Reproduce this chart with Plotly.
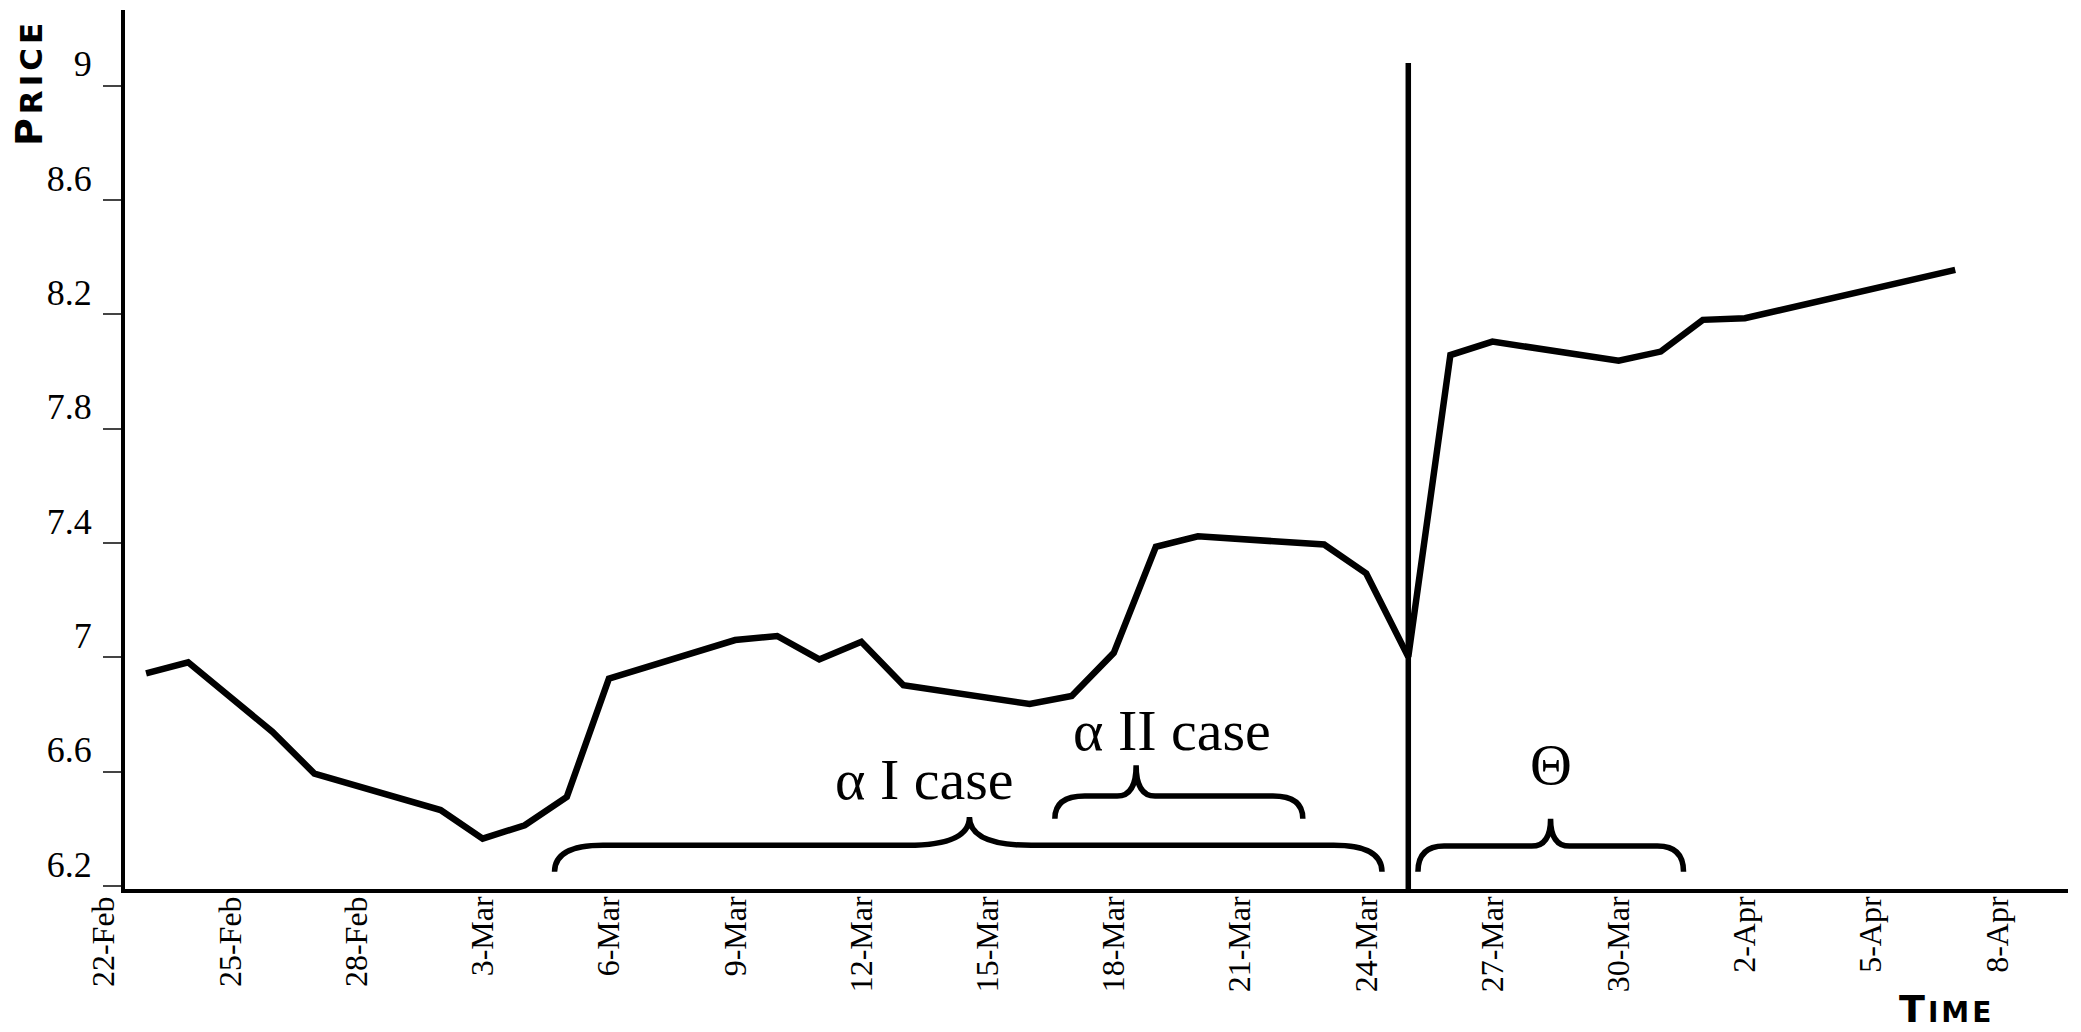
import calendar
from datetime import datetime
import plotly.graph_objects as go

# ---------------- data ----------------
dates = ["2009-02-23", "2009-02-24", "2009-02-25", "2009-02-26", "2009-02-27",
         "2009-03-02", "2009-03-03", "2009-03-04", "2009-03-05", "2009-03-06",
         "2009-03-09", "2009-03-10", "2009-03-11", "2009-03-12", "2009-03-13",
         "2009-03-16", "2009-03-17", "2009-03-18", "2009-03-19", "2009-03-20",
         "2009-03-23", "2009-03-24", "2009-03-25", "2009-03-26", "2009-03-27",
         "2009-03-30", "2009-03-31", "2009-04-01", "2009-04-02", "2009-04-07"]
prices = [6.944, 6.983, 6.862, 6.740, 6.594,
          6.466, 6.366, 6.413, 6.512, 6.926,
          7.061, 7.075, 6.993, 7.055, 6.903,
          6.837, 6.865, 7.016, 7.387, 7.424,
          7.395, 7.294, 7.002, 8.058, 8.105,
          8.038, 8.070, 8.181, 8.187, 8.356]

x_tick_dates = ["2009-02-22", "2009-02-25", "2009-02-28", "2009-03-03", "2009-03-06",
                "2009-03-09", "2009-03-12", "2009-03-15", "2009-03-18", "2009-03-21",
                "2009-03-24", "2009-03-27", "2009-03-30", "2009-04-02", "2009-04-05",
                "2009-04-08"]
x_tick_labels = ["22-Feb", "25-Feb", "28-Feb", "3-Mar", "6-Mar", "9-Mar", "12-Mar",
                 "15-Mar", "18-Mar", "21-Mar", "24-Mar", "27-Mar", "30-Mar", "2-Apr",
                 "5-Apr", "8-Apr"]
y_tick_values = [6.2, 6.6, 7.0, 7.4, 7.8, 8.2, 8.6, 9.0]
y_tick_labels = ["6.2", "6.6", "7", "7.4", "7.8", "8.2", "8.6", "9"]

event_date = "2009-03-25"
event_top = 9.08

# annotation braces (start, tip, end in dates; heights in price units)
braces = [
    dict(start="2009-03-04 17:00", tip="2009-03-14 13:40", end="2009-03-24 09:00",
         y_end=6.250, y_mid=6.343, y_tip=6.442, end_curve=1.15, tip_curve=1.47),
    dict(start="2009-03-16 14:24", tip="2009-03-18 12:45", end="2009-03-22 11:50",
         y_end=6.436, y_mid=6.515, y_tip=6.623, end_curve=0.71, tip_curve=0.45),
    dict(start="2009-03-25 05:31", tip="2009-03-28 09:10", end="2009-03-31 13:00",
         y_end=6.250, y_mid=6.340, y_tip=6.436, end_curve=0.62, tip_curve=0.45),
]
brace_labels = [("α I case", "2009-03-13 12:15", 6.573),
                ("α II case", "2009-03-19 09:20", 6.745),
                ("Θ", "2009-03-28 09:20", 6.626)]

# ---------------- axes extents ----------------
label_start = "2009-02-22 00:00"
plot_start = "2009-02-22 12:00"
plot_end = "2009-04-09 16:19"
y_min, y_max = 6.19, 9.265

DAY = 86400000


def ms(s):
    return calendar.timegm(datetime.fromisoformat(s).timetuple()) * 1000


f = (ms(plot_start) - ms(label_start)) / (ms(plot_end) - ms(label_start))

fig = go.Figure()
# same series on the label axis (invisible) so that the date-label axis is drawn
fig.add_trace(go.Scatter(x=dates, y=prices, mode="lines", xaxis="x2", yaxis="y",
                         line=dict(color="rgba(0,0,0,0)", width=1),
                         showlegend=False, hoverinfo="skip"))
fig.add_trace(go.Scatter(x=dates, y=prices, mode="lines", xaxis="x", yaxis="y",
                         line=dict(color="black", width=6.5),
                         showlegend=False, hoverinfo="skip"))

shapes = [dict(type="line", xref="x", yref="y", x0=event_date, x1=event_date,
               y0=y_min, y1=event_top, line=dict(color="black", width=5.5))]
for b in braces:
    s, t, e = ms(b["start"]), ms(b["tip"]), ms(b["end"])
    ce, ct = b["end_curve"] * DAY, b["tip_curve"] * DAY
    ye, ym, yt = b["y_end"], b["y_mid"], b["y_tip"]
    path = (f"M {s},{ye} Q {s},{ym} {s + ce},{ym} L {t - ct},{ym} "
            f"Q {t},{ym} {t},{yt} Q {t},{ym} {t + ct},{ym} "
            f"L {e - ce},{ym} Q {e},{ym} {e},{ye}")
    shapes.append(dict(type="path", xref="x", yref="y", path=path,
                       line=dict(color="black", width=5.5)))

annotations = []
for text, x, y in brace_labels:
    annotations.append(dict(text=text, x=x, y=y, xref="x", yref="y", showarrow=False,
                            xanchor="center", yanchor="middle",
                            font=dict(family="Liberation Serif", size=58, color="black")))
annotations.append(dict(
    text=("<span style='letter-spacing:4px'>P</span>"
          "<span style='font-size:31px;letter-spacing:4px'>RICE</span>"),
    x=-0.0382, y=0.918, xref="paper", yref="paper", showarrow=False,
    xanchor="center", yanchor="middle", textangle=-90,
    font=dict(family="DejaVu Sans", size=38, color="black", weight="bold")))
annotations.append(dict(
    text=("<span style='letter-spacing:3px'>T</span>"
          "<span style='font-size:28px;letter-spacing:3px'>IME</span>"),
    x=0.938, y=-0.137, xref="paper", yref="paper", showarrow=False,
    xanchor="center", yanchor="middle",
    font=dict(family="DejaVu Sans", size=38, color="black", weight="bold")))

fig.update_layout(
    width=2081, height=1032,
    margin=dict(l=104, r=13, t=10, b=143),
    paper_bgcolor="white", plot_bgcolor="rgba(0,0,0,0)",
    showlegend=False,
    shapes=shapes, annotations=annotations,
    xaxis=dict(type="date", domain=[f, 1], range=[plot_start, plot_end], anchor="y",
               showline=True, linewidth=4, linecolor="black", ticks="",
               showticklabels=False, showgrid=False, zeroline=False),
    xaxis2=dict(type="date", domain=[0, 1], range=[label_start, plot_end], anchor="y",
                showline=False, showgrid=False, zeroline=False, ticks="",
                tickmode="array", tickvals=x_tick_dates, ticktext=x_tick_labels,
                tickangle=-90,
                tickfont=dict(family="Liberation Serif", size=32, color="black")),
    yaxis=dict(range=[y_min, y_max], anchor="x", showline=True, linewidth=4,
               linecolor="black", showgrid=False, zeroline=False,
               tickmode="array", tickvals=y_tick_values, ticktext=y_tick_labels,
               ticks="outside", ticklen=18, tickwidth=1.5, tickcolor="#444",
               ticklabelshift=-22, ticklabelstandoff=4,
               tickfont=dict(family="Liberation Serif", size=36, color="black")),
    yaxis2=dict(range=[y_min, y_max], overlaying="y", anchor="x", side="left",
                showline=False, showgrid=False, zeroline=False, showticklabels=False,
                tickmode="array", tickvals=y_tick_values,
                ticks="inside", ticklen=14, tickwidth=1.5, tickcolor="#444"),
)

fig.write_html("out.html", config={"displayModeBar": False},
               post_script="document.body.style.margin='0';document.body.style.overflow='hidden';")
